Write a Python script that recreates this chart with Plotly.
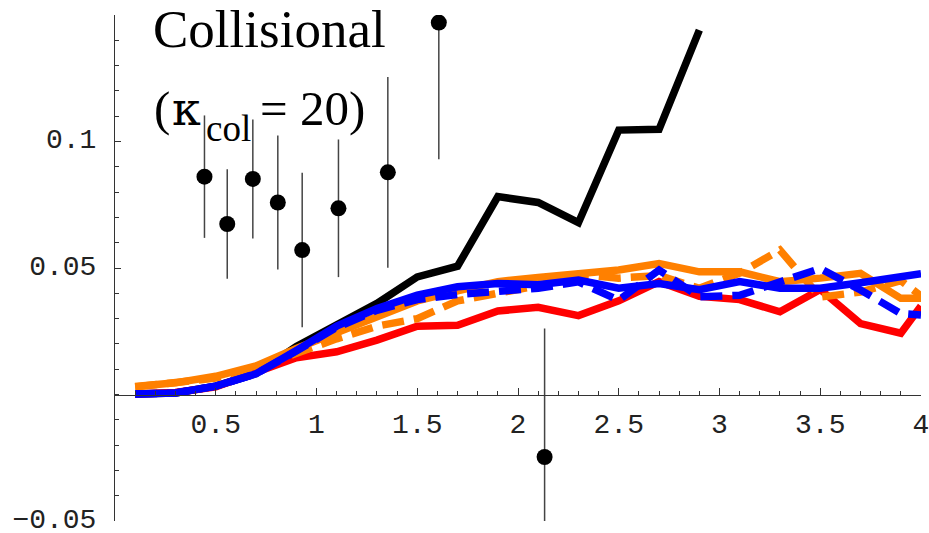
import plotly.graph_objects as go

# ---------------- data ----------------
x_sim = [0.1, 0.3, 0.5, 0.7, 0.9, 1.1, 1.3, 1.5, 1.7, 1.9, 2.1, 2.3, 2.5, 2.7, 2.9,
         3.1, 3.3, 3.5, 3.7, 3.9, 4.0]

black_y = [0.0002, 0.0006, 0.0033, 0.0083, 0.019, 0.0275, 0.036, 0.0465, 0.0507,
           0.0782, 0.0759, 0.0679, 0.1045, 0.1048, 0.144]

red_y = [0.0002, 0.0008, 0.003, 0.0085, 0.0145, 0.0169, 0.0215, 0.027, 0.0274,
         0.033, 0.0345, 0.0312, 0.037, 0.0446, 0.0388, 0.0375, 0.0327, 0.0415,
         0.028, 0.0242, 0.035]

orange_solid_y = [0.0032, 0.0046, 0.0072, 0.0113, 0.0182, 0.0245, 0.031, 0.037,
                  0.041, 0.0446, 0.0463, 0.0476, 0.0492, 0.0518, 0.0485, 0.0485,
                  0.0446, 0.046, 0.0479, 0.038, 0.038]

orange_dash_y = [0.003, 0.0045, 0.0065, 0.0105, 0.0165, 0.022, 0.027, 0.030,
                 0.037, 0.040, 0.043, 0.0475, 0.046, 0.047, 0.042, 0.048, 0.0571,
                 0.0385, 0.0405, 0.045, 0.039]

blue_solid_y = [0.0002, 0.0006, 0.0033, 0.0082, 0.0174, 0.027, 0.034, 0.0393,
                0.0426, 0.0439, 0.0434, 0.0452, 0.042, 0.0439, 0.0414, 0.0446,
                0.042, 0.042, 0.0442, 0.0465, 0.0477]

blue_dash_y = [0.0002, 0.0006, 0.0033, 0.0082, 0.0172, 0.0265, 0.0333, 0.0375,
               0.0395, 0.0405, 0.042, 0.0445, 0.0373, 0.0492, 0.0386, 0.0392,
               0.0445, 0.0498, 0.0413, 0.032, 0.0314]

obs_x = [0.444, 0.557, 0.684, 0.808, 0.929, 1.109, 1.354, 1.607, 2.132]
obs_y = [0.0861, 0.0674, 0.0852, 0.0759, 0.0571, 0.0736, 0.0878, 0.147, -0.0247]
obs_err = [0.0242, 0.0216, 0.0235, 0.0265, 0.0305, 0.0272, 0.0377, 0.054, 0.0508]

x_tickvals = [0.5, 1, 1.5, 2, 2.5, 3, 3.5, 4]
x_ticktext = ["0.5", "1", "1.5", "2", "2.5", "3", "3.5", "4"]
y_tickvals = [-0.05, 0.05, 0.1]
y_ticktext = ["\u22120.05", "0.05", "0.1"]

# ---------------- layout geometry ----------------
W, H = 929, 533
ML, MR, MT, MB = 115, 8, 15, 12
PW, PH = W - ML - MR, H - MT - MB


def px(xp):
    return (xp - ML) / PW


def py(yp):
    return 1 - (yp - MT) / PH


LW = 7.5
DASH = "22px,10px"
fig = go.Figure()

fig.add_trace(go.Scatter(x=x_sim[:len(black_y)], y=black_y, mode="lines",
                         line=dict(color="black", width=LW)))
fig.add_trace(go.Scatter(x=x_sim, y=red_y, mode="lines",
                         line=dict(color="#ff0000", width=LW)))
fig.add_trace(go.Scatter(x=x_sim, y=orange_solid_y, mode="lines",
                         line=dict(color="#ff8000", width=LW)))
fig.add_trace(go.Scatter(x=x_sim, y=orange_dash_y, mode="lines",
                         line=dict(color="#ff8000", width=LW, dash=DASH)))
fig.add_trace(go.Scatter(x=x_sim, y=blue_solid_y, mode="lines",
                         line=dict(color="#0000ff", width=LW)))
fig.add_trace(go.Scatter(x=x_sim, y=blue_dash_y, mode="lines",
                         line=dict(color="#0000ff", width=LW, dash=DASH)))

fig.add_trace(go.Scatter(
    x=obs_x, y=obs_y, mode="markers",
    marker=dict(color="black", size=16),
    error_y=dict(type="data", array=obs_err, symmetric=True, width=0,
                 thickness=1.5, color="#444444"),
))


def label(text, left, baseline, size, family="Liberation Serif", k=0.3375):
    # k = (ascent - descent) / 2 of the font, to place the baseline
    return dict(text=text, xref="paper", yref="paper",
                x=px(left), y=py(baseline - k * size),
                xanchor="left", yanchor="middle", showarrow=False,
                font=dict(family=family, size=size, color="black"))


annotations = [
    label("Collisional", 151, 47, 53),
    label("(", 152, 125, 49),
    label("\u03ba", 170, 125, 46, family="DejaVu Serif", k=0.346),
    label("col", 204, 141, 37),
    label("= 20)", 258, 125, 49),
]

axis_common = dict(
    showgrid=False, zeroline=False, automargin=False,
    showline=True, linecolor="#333333", linewidth=1,
    ticks="inside", tickwidth=1, tickcolor="#333333",
    tickfont=dict(family="Liberation Mono", size=28, color="#222222"),
    ticklabeloverflow="allow",
)

fig.update_layout(
    width=W, height=H,
    margin=dict(l=ML, r=MR, t=MT, b=MB, autoexpand=False),
    paper_bgcolor="white", plot_bgcolor="white",
    showlegend=False,
    xaxis=dict(
        range=[0, 4], anchor="free", position=0.25,
        ticklen=7, tickvals=x_tickvals, ticktext=x_ticktext,
        minor=dict(dtick=0.1, tick0=0, ticks="inside", ticklen=4,
                   tickwidth=1, tickcolor="#333333", showgrid=False),
        ticklabelstandoff=4,
        **axis_common,
    ),
    yaxis=dict(
        range=[-0.05, 0.15],
        ticklen=6, tickvals=y_tickvals, ticktext=y_ticktext,
        minor=dict(dtick=0.01, tick0=0, ticks="inside", ticklen=4,
                   tickwidth=1, tickcolor="#333333", showgrid=False),
        ticklabelstandoff=12, ticklabelshift=-3,
        **axis_common,
    ),
    annotations=annotations,
)

fig.write_html("out.html")
